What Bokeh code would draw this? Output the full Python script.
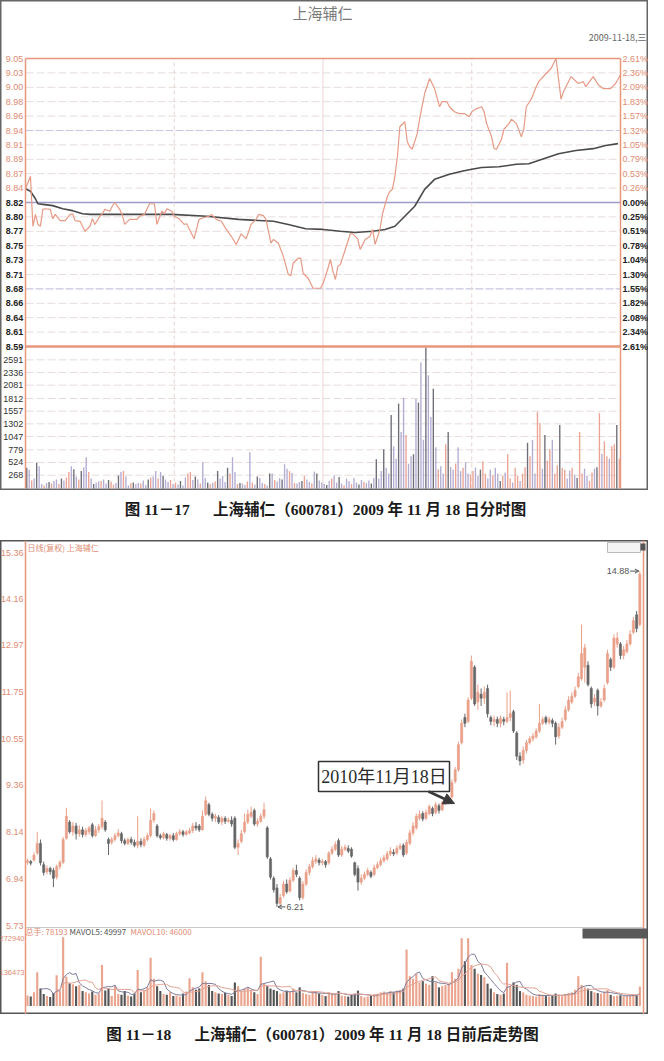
import numpy as np
import pandas as pd
from bokeh.plotting import figure
from bokeh.models import Range1d, Arrow, NormalHead, OpenHead
from bokeh.layouts import column
from bokeh.embed import file_html
from bokeh.resources import INLINE
from bokeh.core.properties import value

# ---------------- chart 1 data (intraday 2009-11-18) ----------------
price_minutes = [0, 2, 3, 4, 5, 6, 7, 8, 10, 11, 12, 14, 16, 18, 19, 20, 22, 24, 26, 27, 28, 30, 31, 32, 34, 35, 36, 38, 39, 40,
                 42, 45, 46, 48, 50, 52, 53, 55, 56, 57, 59, 60, 62, 64, 65, 67, 68, 70, 72, 74, 75, 77, 79, 81, 83, 85, 87, 89, 91, 93,
                 94, 96, 97, 99, 100, 102, 104, 106, 107, 108, 110, 111, 112, 114, 116, 119, 120, 121, 122, 123, 124, 125, 126, 127, 129, 131, 132, 134, 135, 137,
                 139, 140, 141, 143, 144, 146, 147, 148, 149, 150, 151, 153, 154, 155, 156, 158, 159, 161, 163, 165, 167, 168, 170, 171, 173, 175, 177, 179, 180, 182,
                 184, 185, 186, 188, 189, 190, 192, 193, 195, 196, 198, 200, 201, 202, 204, 206, 207, 210, 212, 214, 216, 217, 220, 223, 225, 226, 229, 231, 233, 236,
                 238, 240]
price_values = [8.842, 8.862, 8.782, 8.801, 8.785, 8.782, 8.809, 8.810, 8.809, 8.794, 8.801, 8.791, 8.791, 8.801, 8.802, 8.791, 8.790, 8.774, 8.782, 8.794, 8.785, 8.798, 8.802, 8.809, 8.806, 8.814, 8.820, 8.809, 8.801, 8.785,
                8.793, 8.793, 8.798, 8.801, 8.818, 8.818, 8.785, 8.806, 8.802, 8.810, 8.806, 8.798, 8.794, 8.785, 8.786, 8.770, 8.762, 8.793, 8.796, 8.798, 8.801, 8.793, 8.790, 8.777, 8.766, 8.753, 8.770, 8.762, 8.785, 8.793,
                8.801, 8.799, 8.793, 8.755, 8.761, 8.755, 8.734, 8.705, 8.703, 8.723, 8.731, 8.731, 8.707, 8.699, 8.683, 8.683, 8.691, 8.702, 8.715, 8.729, 8.710, 8.697, 8.718, 8.721, 8.745, 8.770, 8.770, 8.762, 8.745, 8.761,
                8.766, 8.777, 8.753, 8.777, 8.802, 8.830, 8.838, 8.841, 8.862, 8.893, 8.941, 8.949, 8.917, 8.909, 8.905, 8.930, 8.954, 8.994, 9.018, 9.002, 8.973, 8.981, 8.981, 8.973, 8.965, 8.962, 8.962, 8.957, 8.965, 8.970,
                8.973, 8.965, 8.946, 8.925, 8.906, 8.905, 8.921, 8.937, 8.946, 8.953, 8.946, 8.925, 8.937, 8.973, 8.985, 9.005, 9.013, 9.026, 9.034, 9.050, 8.985, 8.997, 9.021, 9.010, 9.013, 9.005, 9.021, 9.008, 9.002, 9.002,
                9.010, 9.024]
avg_minutes = [0, 2, 4, 5, 7, 11, 15, 19, 23, 26, 31, 59, 73, 86, 100, 106, 113, 120, 127, 133, 140, 145, 149, 153, 157, 161, 165, 171, 176, 180,
               184, 191, 198, 203, 209, 215, 222, 229, 234, 239]
avg_values = [8.842, 8.838, 8.826, 8.818, 8.817, 8.815, 8.810, 8.807, 8.802, 8.801, 8.801, 8.801, 8.798, 8.793, 8.790, 8.785, 8.778, 8.777, 8.774, 8.772,
              8.774, 8.777, 8.782, 8.798, 8.814, 8.841, 8.857, 8.865, 8.870, 8.873, 8.876, 8.877, 8.881, 8.882, 8.890, 8.898, 8.903, 8.906, 8.911, 8.914]
minute_volume = [
    420, 380, 160, 200, 520, 450, 90, 60, 110, 130,
    100, 150, 180, 90, 200, 160, 220, 330, 450, 390,
    240, 180, 350, 430, 630, 330, 200, 90, 120, 140,
    150, 180, 100, 170, 140, 80, 110, 260, 330, 350,
    240, 60, 110, 120, 90, 110, 100, 160, 70, 180,
    220, 240, 350, 200, 330, 250, 180, 130, 170, 90,
    120, 80, 150, 60, 220, 300, 330, 170, 240, 180,
    100, 530, 210, 120, 90, 110, 140, 350, 200, 250,
    130, 420, 300, 630, 330, 90, 110, 100, 70, 140,
    730, 120, 80, 240, 210, 110, 90, 60, 300, 300,
    170, 140, 210, 180, 490, 400, 350, 310, 110, 100,
    130, 150, 250, 180, 130, 100, 340, 300, 160, 120,
    90, 70, 150, 200, 260, 120, 230, 100, 60, 200,
    150, 90, 210, 120, 80, 170, 130, 110, 160, 100,
    210, 590, 200, 350, 790, 420, 300, 1480, 850, 600,
    1710, 1140, 1830, 1080, 500, 650, 690, 1810, 1730, 2540,
    980, 2840, 2280, 1440, 2010, 830, 390, 450, 300, 890,
    1140, 430, 380, 500, 830, 350, 420, 530, 300, 280,
    350, 420, 250, 380, 550, 300, 200, 380, 260, 420,
    300, 150, 250, 320, 690, 200, 120, 420, 260, 150,
    300, 430, 920, 650, 980, 300, 1540, 1320, 400, 1080,
    560, 790, 980, 300, 470, 1280, 420, 380, 200, 360,
    420, 280, 210, 1140, 300, 400, 250, 150, 320, 400,
    430, 1520, 700, 950, 650, 600, 850, 890, 1280, 600]
minute_trade_side = ("kbrbkbbrbkrbbrkbrrbk" "brkbbrbkbbrbbkrrbkbr" "bbrkbbrbbkrbbrbkbbrb" "rbkbbrrbkbrbbkrbrkbb"
                     "bkrbbrkbbrbrbkbbrbkb" "rbbkbbrbrbbkrbbrbkbb" "bkbrbbkbrbbrbbkbrbbk" "bkbbkbbkbbkbbrbbkbkb"
                     "bkbbkbrbbrkbbrbbrbbr" "rbbkrrbbrbbkrbrrbrrb" "rrkrbbrrbkrrbrrkrrbb" "rbkrrbbrrbkrbrrbrrkr")
price_tick_labels = ["9.05", "9.03", "9.00", "8.98", "8.96", "8.94", "8.91", "8.89", "8.87", "8.84", "8.82",
                     "8.80", "8.77", "8.75", "8.73", "8.71", "8.68", "8.66", "8.64", "8.61", "8.59"]
pct_tick_labels = ["2.61%", "2.36%", "2.09%", "1.83%", "1.57%", "1.32%", "1.05%", "0.79%", "0.53%", "0.26%", "0.00%",
                   "0.25%", "0.51%", "0.78%", "1.04%", "1.30%", "1.55%", "1.82%", "2.08%", "2.34%", "2.61%"]
vol1_ticks = [2591, 2336, 2081, 1812, 1557, 1302, 1047, 779, 524, 268]
prev_close = 8.82
price_top, price_bottom = 9.05, 8.59
vol1_top = 2860

# ---------------- chart 2 data (daily candles) ----------------
opens = [7.36, 7.38, 7.42, 7.60, 7.85, 7.30, 7.12, 7.20, 7.15, 6.98, 7.25, 7.36, 7.98, 8.40, 8.15, 8.30, 8.10, 8.20, 8.08, 8.15,
         8.33, 8.05, 8.20, 8.28, 8.40, 7.95, 7.88, 7.95, 8.05, 8.10, 7.92, 7.85, 7.95, 7.88, 7.80, 7.90, 7.80, 7.95, 8.05, 8.45,
         8.30, 8.05, 8.00, 8.08, 7.98, 8.05, 7.95, 8.10, 8.15, 8.08, 8.12, 8.18, 8.30, 8.30, 8.20, 8.60, 8.85, 8.60, 8.50, 8.52,
         8.40, 8.50, 8.42, 8.45, 8.50, 7.75, 7.90, 8.15, 8.40, 8.55, 8.70, 8.35, 8.42, 8.55, 8.25, 7.45, 6.95, 6.70, 6.30, 6.50,
         6.80, 6.62, 6.90, 7.15, 6.95, 6.45, 6.80, 7.10, 7.25, 7.38, 7.42, 7.35, 7.38, 7.35, 7.60, 7.70, 7.92, 7.55, 7.70, 7.72,
         7.70, 7.35, 7.20, 6.85, 6.95, 7.05, 7.10, 7.05, 7.22, 7.30, 7.40, 7.45, 7.58, 7.62, 7.60, 7.72, 7.80, 7.60, 7.85, 8.12,
         8.25, 8.50, 8.62, 8.50, 8.62, 8.75, 8.65, 8.82, 8.72, 8.90, 8.98, 9.05, 9.45, 9.75, 10.45, 11.10, 11.00, 11.60, 12.40, 11.50,
         11.70, 11.60, 11.85, 11.10, 11.00, 11.05, 10.95, 11.05, 11.00, 11.10, 11.25, 10.70, 10.10, 10.00, 10.25, 10.45, 10.55, 10.60, 10.75, 10.95,
         11.10, 10.98, 11.02, 10.95, 10.62, 10.85, 11.05, 11.30, 11.50, 11.65, 11.90, 12.10, 12.40, 12.45, 11.85, 11.50, 11.80, 11.40, 11.55, 12.00,
         12.60, 12.40, 13.00, 13.00, 12.70, 12.80, 13.00, 13.30, 13.75, 13.50]
highs = [7.45, 7.42, 7.62, 8.15, 7.95, 7.38, 7.28, 7.25, 7.22, 7.30, 7.42, 8.02, 8.77, 8.45, 8.40, 8.38, 8.32, 8.28, 8.25, 8.30,
         8.38, 8.30, 8.35, 8.96, 8.45, 8.00, 8.02, 8.12, 8.22, 8.15, 7.98, 8.00, 8.02, 7.95, 8.55, 7.98, 8.02, 8.12, 8.75, 8.70,
         8.35, 8.10, 8.15, 8.12, 8.10, 8.12, 8.15, 8.22, 8.20, 8.20, 8.25, 8.38, 8.40, 8.35, 8.70, 9.06, 8.90, 8.65, 8.62, 8.58,
         8.56, 8.55, 8.52, 8.55, 8.55, 7.95, 8.20, 8.62, 8.72, 8.80, 8.75, 8.50, 8.62, 8.90, 8.30, 7.50, 7.00, 6.80, 6.55, 6.88,
         6.92, 6.98, 7.22, 7.30, 7.00, 6.88, 7.18, 7.32, 7.50, 7.55, 7.48, 7.45, 7.42, 7.65, 7.78, 7.90, 7.98, 7.78, 7.82, 7.80,
         7.75, 7.38, 7.28, 7.05, 7.12, 7.22, 7.15, 7.30, 7.38, 7.48, 7.55, 7.65, 7.75, 7.70, 7.80, 7.85, 7.85, 7.95, 8.20, 8.40,
         8.62, 8.70, 8.68, 8.72, 8.85, 8.80, 8.92, 8.88, 8.95, 9.05, 9.10, 9.50, 9.82, 10.48, 11.05, 11.20, 11.62, 12.70, 12.45, 11.95,
         11.85, 11.90, 11.95, 11.15, 11.15, 11.12, 11.15, 11.12, 11.75, 11.80, 11.30, 10.75, 10.20, 10.35, 10.52, 10.62, 10.70, 10.82, 11.45, 11.12,
         11.15, 11.12, 11.08, 11.00, 10.95, 11.10, 11.40, 11.65, 11.75, 11.90, 12.25, 13.50, 13.00, 12.55, 11.90, 11.70, 11.85, 11.60, 11.95, 12.85,
         12.65, 13.25, 13.30, 13.05, 12.95, 13.10, 13.35, 13.70, 13.85, 14.88]
lows = [7.30, 7.28, 7.38, 7.55, 7.28, 7.02, 7.05, 7.04, 6.72, 6.92, 7.18, 7.32, 7.95, 8.10, 8.05, 7.95, 8.02, 8.00, 8.02, 8.08,
        8.00, 8.02, 8.12, 8.22, 8.15, 7.55, 7.82, 7.90, 8.00, 7.85, 7.80, 7.80, 7.82, 7.75, 7.72, 7.75, 7.76, 7.90, 8.00, 8.38,
        8.00, 7.95, 7.95, 7.92, 7.92, 7.90, 7.92, 8.05, 8.02, 8.05, 8.08, 8.12, 8.18, 8.15, 8.18, 8.55, 8.55, 8.42, 8.40, 8.35,
        8.32, 8.35, 8.38, 8.28, 7.70, 7.55, 7.85, 8.10, 8.35, 8.50, 8.30, 8.28, 8.38, 8.48, 7.45, 6.92, 6.58, 6.21, 6.25, 6.45,
        6.55, 6.58, 6.85, 6.98, 6.38, 6.40, 6.75, 7.02, 7.20, 7.32, 7.28, 7.28, 7.22, 7.30, 7.55, 7.65, 7.50, 7.50, 7.65, 7.60,
        7.48, 7.00, 6.63, 6.78, 6.90, 7.00, 6.95, 7.00, 7.18, 7.25, 7.35, 7.40, 7.52, 7.52, 7.55, 7.68, 7.50, 7.55, 7.80, 8.05,
        8.20, 8.45, 8.42, 8.45, 8.58, 8.55, 8.60, 8.62, 8.68, 8.85, 8.92, 9.00, 9.40, 9.70, 10.40, 10.85, 10.95, 11.55, 11.40, 11.30,
        11.40, 11.45, 11.10, 10.90, 10.88, 10.85, 10.85, 10.90, 10.95, 11.00, 10.70, 10.00, 9.86, 9.90, 10.18, 10.40, 10.48, 10.55, 10.70, 10.90,
        10.92, 10.92, 10.85, 10.40, 10.55, 10.80, 11.00, 11.25, 11.45, 11.60, 11.85, 12.05, 12.00, 11.90, 11.35, 11.40, 11.15, 11.35, 11.50, 11.95,
        12.30, 12.35, 12.90, 12.60, 12.60, 12.75, 12.95, 13.25, 13.30, 13.45]
closes = [7.40, 7.34, 7.55, 7.85, 7.35, 7.10, 7.20, 7.12, 6.95, 7.25, 7.36, 7.95, 8.55, 8.15, 8.30, 8.10, 8.20, 8.08, 8.18, 8.25,
          8.05, 8.20, 8.28, 8.50, 8.20, 7.85, 7.95, 8.05, 8.12, 7.92, 7.85, 7.95, 7.88, 7.80, 7.90, 7.82, 7.95, 8.05, 8.45, 8.62,
          8.05, 8.00, 8.10, 7.98, 8.05, 7.95, 8.10, 8.15, 8.08, 8.15, 8.18, 8.30, 8.25, 8.20, 8.55, 8.95, 8.60, 8.50, 8.55, 8.40,
          8.50, 8.42, 8.45, 8.35, 7.75, 7.85, 8.10, 8.40, 8.60, 8.65, 8.35, 8.42, 8.55, 8.72, 7.50, 6.98, 6.65, 6.30, 6.45, 6.80,
          6.60, 6.90, 7.15, 7.05, 6.45, 6.80, 7.10, 7.25, 7.40, 7.45, 7.35, 7.38, 7.30, 7.60, 7.70, 7.82, 7.55, 7.70, 7.75, 7.65,
          7.52, 7.05, 6.85, 6.95, 7.05, 7.15, 7.00, 7.22, 7.30, 7.40, 7.48, 7.58, 7.65, 7.58, 7.72, 7.78, 7.55, 7.88, 8.12, 8.30,
          8.55, 8.60, 8.48, 8.65, 8.80, 8.62, 8.85, 8.70, 8.90, 8.98, 9.05, 9.42, 9.75, 10.40, 10.95, 10.95, 11.55, 12.55, 11.45, 11.75,
          11.60, 11.75, 11.20, 11.00, 11.05, 10.95, 11.08, 11.00, 11.10, 11.20, 10.75, 10.10, 9.98, 10.25, 10.45, 10.55, 10.62, 10.75, 10.95, 11.05,
          10.98, 11.05, 10.95, 10.60, 10.85, 11.00, 11.30, 11.55, 11.65, 11.80, 12.15, 12.75, 12.90, 11.95, 11.45, 11.60, 11.40, 11.50, 11.85, 12.75,
          12.40, 13.15, 13.15, 12.70, 12.85, 13.00, 13.25, 13.60, 13.40, 14.80]
daily_volume = [42000, 38000, 55000, 136000, 70000, 48000, 40000, 36000, 52000, 124000,
                60000, 277000, 118000, 92000, 88000, 80000, 85000, 60000, 55000, 50000,
                58000, 45000, 50000, 165000, 62000, 70000, 40000, 83000, 48000, 45000,
                60000, 42000, 38000, 50000, 145000, 55000, 60000, 75000, 194000, 110000,
                80000, 60000, 48000, 45000, 55000, 40000, 42000, 38000, 50000, 58000,
                112000, 75000, 65000, 70000, 136000, 100000, 85000, 60000, 55000, 50000,
                48000, 52000, 45000, 40000, 95000, 80000, 60000, 70000, 75000, 60000,
                55000, 48000, 198000, 90000, 80000, 70000, 65000, 60000, 50000, 55000,
                62000, 58000, 70000, 55000, 75000, 52000, 48000, 45000, 58000, 60000,
                50000, 45000, 40000, 55000, 50000, 48000, 60000, 42000, 40000, 38000,
                45000, 50000, 62000, 40000, 35000, 38000, 42000, 48000, 50000, 55000,
                58000, 52000, 60000, 55000, 62000, 65000, 70000, 227000, 120000, 110000,
                130000, 95000, 100000, 90000, 85000, 120000, 95000, 75000, 80000, 85000,
                90000, 136000, 110000, 150000, 273000, 180000, 273000, 165000, 150000, 130000,
                125000, 116000, 90000, 70000, 55000, 48000, 45000, 50000, 174000, 80000,
                95000, 85000, 60000, 55000, 45000, 42000, 40000, 38000, 48000, 45000,
                40000, 38000, 42000, 50000, 45000, 40000, 48000, 52000, 55000, 65000,
                120000, 85000, 75000, 70000, 60000, 55000, 52000, 50000, 58000, 65000,
                45000, 40000, 42000, 43015, 40000, 40000, 42000, 45000, 44792, 78193]
k_tick_labels = ["15.36", "14.16", "12.97", "11.75", "10.55", "9.36", "8.14", "6.94", "5.73"]
k_tick_values = [15.36, 14.16, 12.97, 11.75, 10.55, 9.36, 8.14, 6.94, 5.73]
vol2_ticks = [272940, 136473]

# ---------------- styling / layout ----------------
W = 648
OR = "#E8967C"
OR_TXT = "#E08C74"
SANS = value("Liberation Sans")
CJK = value("Noto Sans CJK SC")
SERIF_CJK = value("'Liberation Serif', 'Noto Sans CJK SC'")


def lin_range(v_top, cy_top, v_bot, cy_bot, h):
    k = (v_top - v_bot) / float(cy_bot - cy_top)
    return Range1d(start=v_bot - (h - cy_bot) * k, end=v_top + cy_top * k)


def base_fig(h, x_range, y_range, extra_y=None):
    p = figure(width=W, height=h, x_range=x_range, y_range=y_range,
               x_axis_location=None, y_axis_location=None, toolbar_location=None,
               output_backend="svg", min_border=0,
               background_fill_color="white", border_fill_color="white")
    p.grid.visible = False
    p.outline_line_color = None
    ey = {"px": Range1d(h, 0)}
    if extra_y:
        ey.update(extra_y)
    p.extra_x_ranges = {"px": Range1d(0, W)}
    p.extra_y_ranges = ey
    return p


# ================= chart 1 =================
H1 = 490
PXM = 595 / 240.0
p1 = base_fig(H1, Range1d(-25 / PXM, (W - 25) / PXM), lin_range(price_top, 58, price_bottom, 346, H1),
              {"vol": lin_range(vol1_top, 346, 0, 488, H1)})
p1.outline_line_color = "#666666"
p1.outline_line_width = 2

tick_pos = np.linspace(price_top, price_bottom, len(price_tick_labels))
for k, y in enumerate(tick_pos):
    if k in (0, len(tick_pos) - 1):
        continue
    if k == 10:
        p1.segment(x0=0, x1=240, y0=y, y1=y, line_color="#9C9CCB", line_width=1.6)
    elif k in (5, 16):
        p1.segment(x0=0, x1=240, y0=y, y1=y, line_color="#C6C6E2", line_width=1.2, line_dash="8 2")
    else:
        p1.segment(x0=0, x1=240, y0=y, y1=y, line_color="#E8DCDC", line_width=1, line_dash="8 3")
p1.segment(x0=0, x1=240, y0=vol1_ticks, y1=vol1_ticks, y_range_name="vol",
           line_color="#E8DCDC", line_width=1, line_dash="8 3")
for m, dash in ((60, "4 3"), (120, "solid"), (180, "4 3")):
    p1.segment(x0=m, x1=m, y0=price_bottom, y1=price_top, line_color="#EBD3D3", line_width=1, line_dash=dash)
    p1.segment(x0=m, x1=m, y0=0, y1=vol1_top, y_range_name="vol", line_color="#EBD3D3", line_width=1, line_dash=dash)

side_color = {"r": "#EBA493", "b": "#B3ADD3", "k": "#6E6E78"}
p1.vbar(x=np.arange(240) + 0.5, top=minute_volume, bottom=0, width=0.55, y_range_name="vol",
        fill_color=[side_color[c] for c in minute_trade_side], line_color=None)

p1.line(avg_minutes, avg_values, line_color="#4A4A4A", line_width=1.6)
p1.line(price_minutes, price_values, line_color="#E79A86", line_width=1.2)

# orange frame
p1.segment(x0=[0, 240], x1=[0, 240], y0=price_bottom, y1=price_top, line_color=OR, line_width=1.5)
p1.segment(x0=[0, 240], x1=[0, 240], y0=0, y1=vol1_top, y_range_name="vol", line_color=OR, line_width=1.5)
p1.segment(x0=0, x1=240, y0=price_top, y1=price_top, line_color=OR, line_width=1.5)
p1.segment(x0=0, x1=240, y0=price_bottom, y1=price_bottom, line_color=OR, line_width=2.5)

# tick labels
lab = dict(text_baseline="middle", text_font=SANS, text_font_size="9px")
p1.text(x=-0.9, y=tick_pos[:10], text=price_tick_labels[:10], text_align="right", text_color=OR_TXT, **lab)
p1.text(x=-0.9, y=tick_pos[10:], text=price_tick_labels[10:], text_align="right", text_color="#222222",
        text_font_style="bold", **lab)
p1.text(x=240.8, y=tick_pos[:10], text=pct_tick_labels[:10], text_align="left", text_color=OR_TXT, **lab)
p1.text(x=240.8, y=tick_pos[10:], text=pct_tick_labels[10:], text_align="left", text_color="#222222",
        text_font_style="bold", **lab)
p1.text(x=-0.9, y=vol1_ticks, text=[str(v) for v in vol1_ticks], y_range_name="vol", text_align="right",
        text_color="#333333", **lab)

p1.text(x=[322], y=[12], text=["上海辅仁"], x_range_name="px", y_range_name="px", text_align="center",
        text_baseline="middle", text_font=CJK, text_font_size="15px", text_color="#7A7A7A")
p1.text(x=[646], y=[37], text=["2009-11-18,三"], x_range_name="px", y_range_name="px", text_align="right",
        text_baseline="middle", text_font=CJK, text_font_size="9px", text_color="#666666")

# caption 1
cap1 = base_fig(50, Range1d(0, W), Range1d(50, 0))
cap1.text(x=[325], y=[19], text=["图 11－17\u3000\u2002上海辅仁（600781）2009 年 11 月 18 日分时图"], text_align="center",
          text_baseline="middle", text_font=SERIF_CJK, text_font_size="15.5px", text_font_style="bold",
          text_color="#1A1A1A")

# ================= chart 2 =================
H2 = 474
PXK = 3.24
vol2_top_cy = 387
p2 = base_fig(H2, Range1d(-27 / PXK, (W - 27) / PXK), lin_range(15.36, 12, 5.73, 385, H2),
              {"vol": lin_range(vol2_ticks[0], 397.7, 0, 465.5, H2)})
p2.outline_line_color = "#555555"
p2.outline_line_width = 2

idx = np.arange(len(closes))
o = np.array(opens); c = np.array(closes)
up = c >= o
candle_col = np.where(up, "#EAA089", "#666666")
p2.segment(x0=idx, x1=idx, y0=lows, y1=highs, line_color=candle_col, line_width=1)
p2.vbar(x=idx, top=np.maximum(o, c), bottom=np.minimum(o, c), width=0.66,
        fill_color=candle_col, line_color=candle_col, line_width=0.6)

vol_col = np.where(up, "#EBA58F", "#555555")
p2.vbar(x=idx, top=daily_volume, bottom=0, width=0.66, y_range_name="vol",
        fill_color=vol_col, line_color=None)
vs = pd.Series(daily_volume, dtype=float)
p2.line(idx, vs.rolling(5).mean(), y_range_name="vol", line_color="#7C7C9C", line_width=1)
p2.line(idx, vs.rolling(10).mean(), y_range_name="vol", line_color="#E3A394", line_width=1)

# frame lines (pixel layout)
p2.segment(x0=[25, 643], x1=[25, 643], y0=0, y1=H2, x_range_name="px", y_range_name="px",
           line_color=OR, line_width=1.5)
p2.segment(x0=25, x1=643, y0=vol2_top_cy, y1=vol2_top_cy, x_range_name="px", y_range_name="px",
           line_color="#C9C9C9", line_width=1)

# tick labels
p2.text(x=23, y=k_tick_values, text=k_tick_labels, x_range_name="px", text_align="right",
        text_baseline="middle", text_font=SANS, text_font_size="9px", text_color=OR_TXT)
p2.text(x=24, y=vol2_ticks, text=[str(v) for v in vol2_ticks], x_range_name="px", y_range_name="vol",
        text_align="right", text_baseline="middle", text_font=SANS, text_font_size="7.5px", text_color=OR_TXT)

# headers
p2.text(x=[27], y=[7], text=["日线(复权)  上海辅仁"], x_range_name="px", y_range_name="px",
        text_baseline="middle", text_font=CJK, text_font_size="8px", text_color=OR_TXT)
p2.quad(left=607, right=640, top=2, bottom=12, x_range_name="px", y_range_name="px",
        fill_color="#F4F4F4", line_color="#BBBBBB", line_width=1)
p2.quad(left=640, right=645, top=3, bottom=10, x_range_name="px", y_range_name="px",
        fill_color="#555555", line_color=None)
hdr = dict(x_range_name="px", y_range_name="px", text_baseline="middle", text_font=CJK, text_font_size="8px")
p2.text(x=[25], y=[391], text=["总手: %d" % daily_volume[-1]], text_color=OR_TXT, **hdr)
p2.text(x=[69], y=[391], text=["MAVOL5: %d" % round(vs.rolling(5).mean().iloc[-1])], text_color="#555555", **hdr)
p2.text(x=[130], y=[391], text=["MAVOL10: %d" % round(vs.rolling(10).mean().iloc[-1])], text_color=OR_TXT, **hdr)
p2.quad(left=582, right=647, top=388, bottom=398, x_range_name="px", y_range_name="px",
        fill_color="#595959", line_color=None)

# high / low markers
ih = int(np.argmax(highs)); il = int(np.argmin(lows))
p2.add_layout(Arrow(end=OpenHead(size=4, line_color="#555555", line_width=1), x_start=ih - 3.0, y_start=highs[ih],
                    x_end=ih - 0.3, y_end=highs[ih], line_color="#555555", line_width=1))
p2.text(x=ih - 3.3, y=highs[ih], text=["%.2f" % highs[ih]], text_align="right", text_baseline="middle",
        text_font=SANS, text_font_size="9px", text_color="#555555")
p2.add_layout(Arrow(end=OpenHead(size=4, line_color="#555555", line_width=1), x_start=il + 2.6, y_start=lows[il],
                    x_end=il + 0.3, y_end=lows[il], line_color="#555555", line_width=1))
p2.text(x=il + 2.9, y=lows[il], text=["%.2f" % lows[il]], text_align="left", text_baseline="middle",
        text_font=SANS, text_font_size="9px", text_color="#555555")

# callout
p2.quad(left=318, right=449, top=221, bottom=251, x_range_name="px", y_range_name="px",
        fill_color="white", line_color="#333333", line_width=1.5)
p2.text(x=[383.5], y=[236.5], text=["2010年11月18日"], x_range_name="px", y_range_name="px",
        text_align="center", text_baseline="middle", text_font=SERIF_CJK, text_font_size="18px",
        text_color="#2A2A2A")
p2.add_layout(Arrow(end=NormalHead(size=11, fill_color="#3A3A3A", line_color="#3A3A3A"),
                    x_start=428, y_start=251, x_end=454, y_end=263, x_range_name="px", y_range_name="px",
                    line_color="#3A3A3A", line_width=2.5))

# caption 2
cap2 = base_fig(31, Range1d(0, W), Range1d(31, 0))
cap2.text(x=[322], y=[20], text=["图 11－18\u3000\u2002上海辅仁（600781）2009 年 11 月 18 日前后走势图"], text_align="center",
          text_baseline="middle", text_font=SERIF_CJK, text_font_size="15.5px", text_font_style="bold",
          text_color="#1A1A1A")

layout = column(p1, cap1, p2, cap2, spacing=0)
open("out.html", "w").write(file_html(layout, INLINE))
